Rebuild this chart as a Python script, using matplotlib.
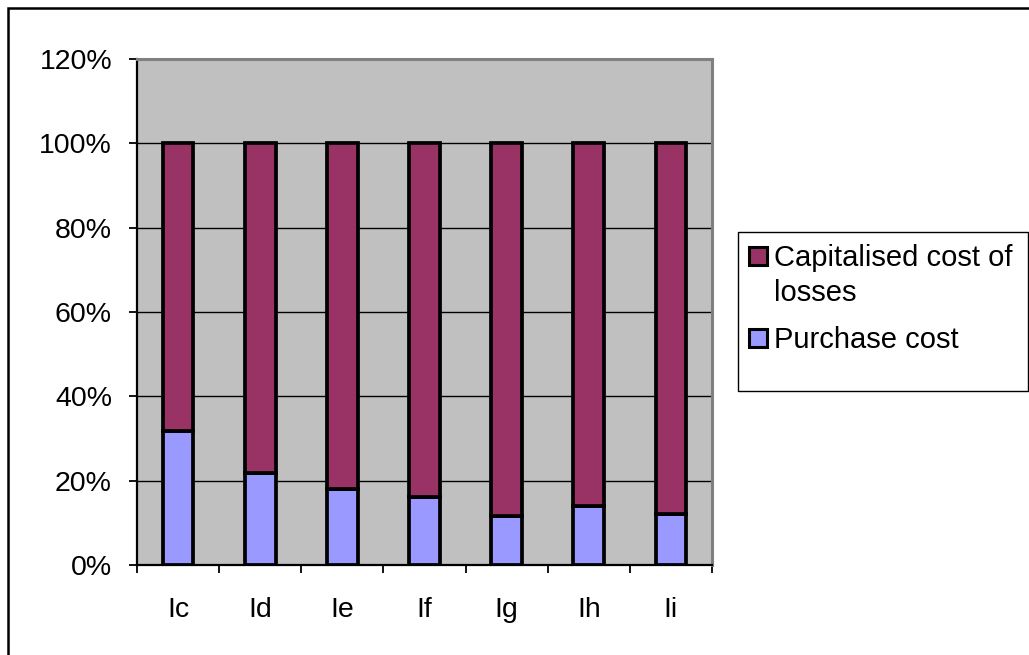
import matplotlib.pyplot as plt
import matplotlib.patches as mpatches
import numpy as np

plt.rcParams['font.family'] = ['Liberation Sans', 'DejaVu Sans']

# data (percent)
categories = ['Ic', 'Id', 'Ie', 'If', 'Ig', 'Ih', 'Ii']
purchase_cost = [31.8, 21.8, 18.1, 16.1, 11.7, 14.1, 12.2]
capitalised_losses = [100 - p for p in purchase_cost]
y_ticks = [0, 20, 40, 60, 80, 100, 120]
series_names = ['Capitalised cost of\nlosses', 'Purchase cost']
series_colors = ['#993366', '#9999FF']

W, H = 1029, 655
fig = plt.figure(figsize=(W / 100, H / 100), dpi=100)
ax = fig.add_axes([137 / W, (H - 565) / H, 575 / W, 506 / H])
ax.set_facecolor('#C0C0C0')

x = np.arange(len(categories))
ax.bar(x, purchase_cost, width=0.375, color=series_colors[1], edgecolor='black',
       linewidth=2.7, zorder=3)
ax.bar(x, capitalised_losses, width=0.375, bottom=purchase_cost, color=series_colors[0],
       edgecolor='black', linewidth=2.7, zorder=3)

ax.set_xlim(-0.5, len(categories) - 0.5)
ax.set_ylim(0, 120)
ax.set_yticks(y_ticks)
ax.set_yticklabels([f'{v}%' for v in y_ticks])
ax.yaxis.grid(True, color='black', linewidth=1.0, zorder=1)
ax.set_axisbelow(True)

# category labels centred, ticks on the category boundaries
ax.set_xticks(x)
ax.set_xticklabels(categories)
ax.tick_params(axis='x', which='major', length=0, pad=23, labelsize=20.5)
ax.set_xticks(np.arange(-0.5, len(categories)), minor=True)
ax.tick_params(axis='x', which='minor', length=6, width=1.3, direction='out')
ax.tick_params(axis='y', length=6, width=1.3, pad=12, labelsize=20.5)

for side in ['left', 'bottom']:
    ax.spines[side].set_color('black')
    ax.spines[side].set_linewidth(1.6)
for side in ['top', 'right']:
    ax.spines[side].set_color('#808080')
    ax.spines[side].set_linewidth(2.2)

# legend box, drawn by hand so the first swatch sits on the first text line
fig.patches.append(mpatches.Rectangle((738 / W, 1 - 391 / H), (1028 - 738) / W, (391 - 232) / H,
                                      transform=fig.transFigure, facecolor='white',
                                      edgecolor='black', linewidth=1.0))
baselines = [266.5, 348]
line_step = 34.5
for name, col, base in zip(series_names, series_colors, baselines):
    fig.patches.append(mpatches.Rectangle((749 / W, 1 - (base - 1) / H), 18 / W, 18 / H,
                                          transform=fig.transFigure, facecolor=col,
                                          edgecolor='black', linewidth=2.2))
    for i, line in enumerate(name.split('\n')):
        fig.text(774 / W, 1 - (base + i * line_step) / H, line, fontsize=21,
                 va='baseline', ha='left')

# outer chart border (right and bottom run past the image edge)
fig.patches.append(mpatches.Rectangle((7.5 / W, -0.1), 1.5, 1.1 - 8 / H,
                                      transform=fig.transFigure, facecolor='none',
                                      edgecolor='black', linewidth=1.8))

fig.savefig('out.png', dpi=100)
